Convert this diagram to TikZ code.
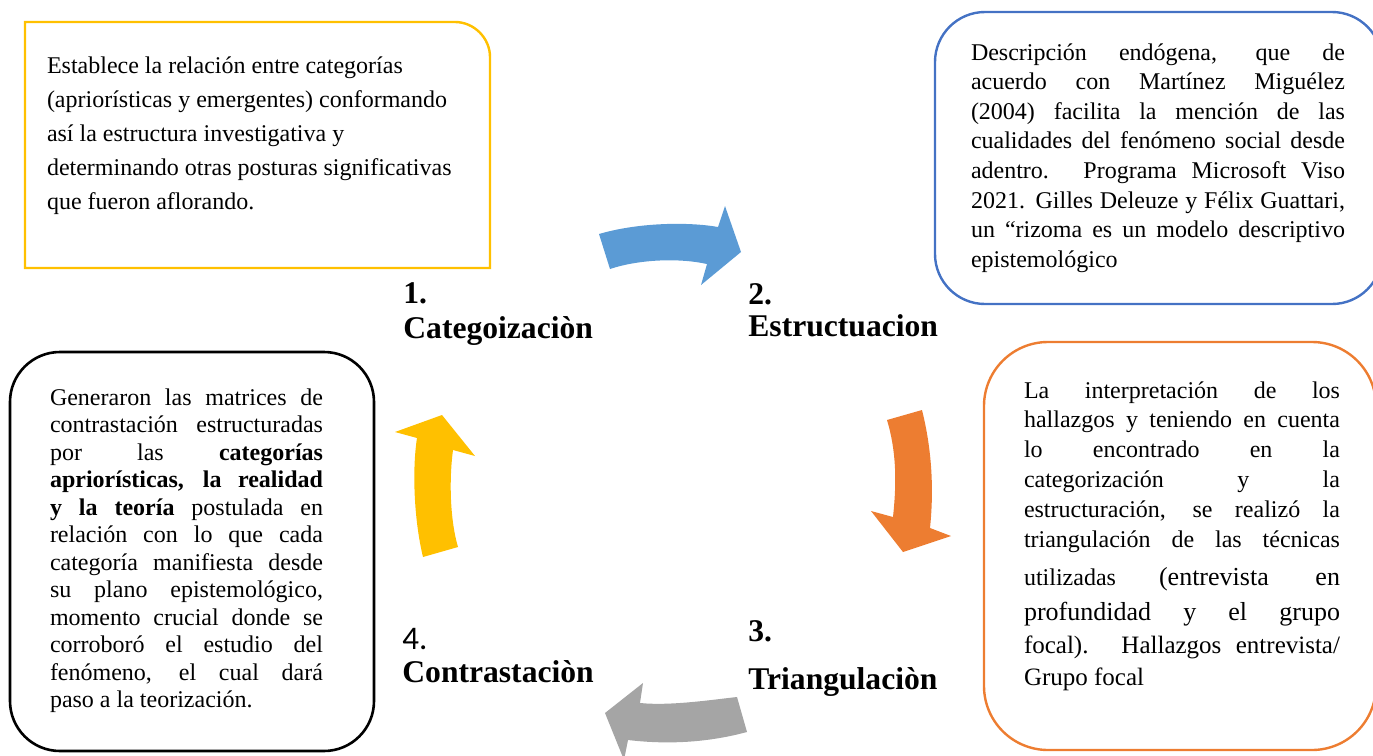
\documentclass[tikz,border=0pt]{standalone}
\usepackage{fontspec}
\setmainfont{Liberation Serif}
\newfontfamily\calib{Carlito}
\definecolor{cyellow}{HTML}{FFC000}
\definecolor{cblue}{HTML}{4472C4}
\definecolor{ablue}{HTML}{5B9BD5}
\definecolor{corange}{HTML}{ED7D31}
\definecolor{cgray}{HTML}{A5A5A5}
\newcommand{\jl}[2]{\makebox[#1][s]{#2}}
\begin{document}
\begin{tikzpicture}[x=0.5pt,y=-0.5pt,
  boxline/.style={line width=1.2pt},
  bodytext/.style={anchor=base west, inner sep=0pt, outer sep=0pt},
  heading/.style={anchor=base west, inner sep=0pt, font=\fontsize{15.8}{18}\selectfont\bfseries},
  blockarrow/.style={draw=none}]
\useasboundingbox (0,0) rectangle (1373,756);
\clip (0,0) rectangle (1373,756);

% Box 1 (yellow)
\draw[boxline, cyellow] (25,22) -- (455,22) .. controls (474,22) and (490,38) .. (490,57) -- (490,268) -- (25,268) -- cycle;
\node[bodytext] (t1) at (47,73) {\parbox[t]{220pt}{\raggedright\fontsize{12}{17}\selectfont
Establece la relación entre categorías\\
(apriorísticas y emergentes) conformando\\
así la estructura investigativa y\\
determinando otras posturas significativas\\
que fueron aflorando.}};

% Box 2 (blue)
\draw[boxline, cblue, rounded corners=25pt] (935,12) rectangle (1382,304);
\node[bodytext] (t2) at (971,60) {\parbox[t]{187pt}{\raggedright\fontsize{12}{14.8}\selectfont
\jl{187pt}{Descripción endógena, que de}\\
\jl{187pt}{acuerdo con Martínez Miguélez}\\
\jl{187pt}{(2004) facilita la mención de las}\\
\jl{187pt}{cualidades del fenómeno social desde}\\
\jl{187pt}{adentro. Programa Microsoft Viso}\\
\jl{187pt}{2021. Gilles Deleuze y Félix Guattari,}\\
\jl{187pt}{un “rizoma es un modelo descriptivo}\\
epistemológico}};

% Box 3 (orange)
\draw[boxline, corange, rounded corners=32pt] (984,342) rectangle (1376,750);
\node[bodytext] (t3) at (1024,398) {\parbox[t]{158pt}{\raggedright\fontsize{12}{14.9}\selectfont
\jl{158pt}{La interpretación de los}\\
\jl{158pt}{hallazgos y teniendo en cuenta}\\
\jl{158pt}{lo encontrado en la}\\
\jl{158pt}{categorización y la}\\
\jl{158pt}{estructuración, se realizó la}\\
\jl{158pt}{triangulación de las técnicas}\\[4.1pt]
\jl{158pt}{utilizadas {\fontsize{13}{15}\selectfont(entrevista en}}\\[2.6pt]
{\fontsize{13}{15}\selectfont\jl{158pt}{profundidad y el grupo}}\\[1.6pt]
{\fontsize{12.5}{15}\selectfont\jl{158pt}{focal). Hallazgos entrevista/}}\\[1.1pt]
{\fontsize{12.5}{15}\selectfont Grupo focal}}};

% Box 4 (black)
\draw[line width=1.3pt, black, rounded corners=25pt] (10,352) rectangle (374,751);
\node[bodytext] (t4) at (50,405) {\parbox[t]{136.5pt}{\raggedright\fontsize{12}{13.75}\selectfont
\jl{136.5pt}{Generaron las matrices de}\\
\jl{136.5pt}{contrastación estructuradas}\\
\jl{136.5pt}{por las \textbf{categorías}}\\
\jl{136.5pt}{\textbf{apriorísticas, la realidad}}\\
\jl{136.5pt}{\textbf{y la teoría} postulada en}\\
\jl{136.5pt}{relación con lo que cada}\\
\jl{136.5pt}{categoría manifiesta desde}\\
\jl{136.5pt}{su plano epistemológico,}\\
\jl{136.5pt}{momento crucial donde se}\\
\jl{136.5pt}{corroboró el estudio del}\\
\jl{136.5pt}{fenómeno, el cual dará}\\
paso a la teorización.}};

% Headings
\node[heading] (h1a) at (403,303) {1.};
\node[heading] (h1b) at (403,338) {Categoizaciòn};
\node[heading] (h2a) at (748,304) {2.};
\node[heading] (h2b) at (748,336) {Estructuacion};
\node[heading] (h3a) at (748,641) {3.};
\node[heading] (h3b) at (748,689) {Triangulaciòn};
\node[anchor=base west, inner sep=0pt, font=\fontsize{16.5}{18}\selectfont\calib] (h4a) at (402,649) {4.};
\node[heading] (h4b) at (402,682) {Contrastaciòn};

% Block arrows
\fill[ablue] (599,234) .. controls (640,222) and (690,222) .. (718,227) -- (725,206) -- (741,252) -- (701,285) -- (707,264) .. controls (680,258) and (640,259) .. (610,269) -- cycle;
\fill[corange] (922,410) .. controls (932,450) and (934,490) .. (930,528) -- (951,536) -- (903,552) -- (871,511) -- (893,517) .. controls (897,480) and (896,450) .. (887,420) -- cycle;
\fill[cgray] (737,697) .. controls (710,700) and (670,706) .. (640,703) -- (643,683) -- (605,713) -- (624,760) -- (628,740) .. controls (670,745) and (710,742) .. (747,732) -- cycle;
\fill[cyellow] (423,557) .. controls (414,520) and (412,470) .. (417,438) -- (395,432) -- (442,415) -- (475,456) -- (453,450) .. controls (449,480) and (450,520) .. (458,547) -- cycle;
\end{tikzpicture}
\end{document}
